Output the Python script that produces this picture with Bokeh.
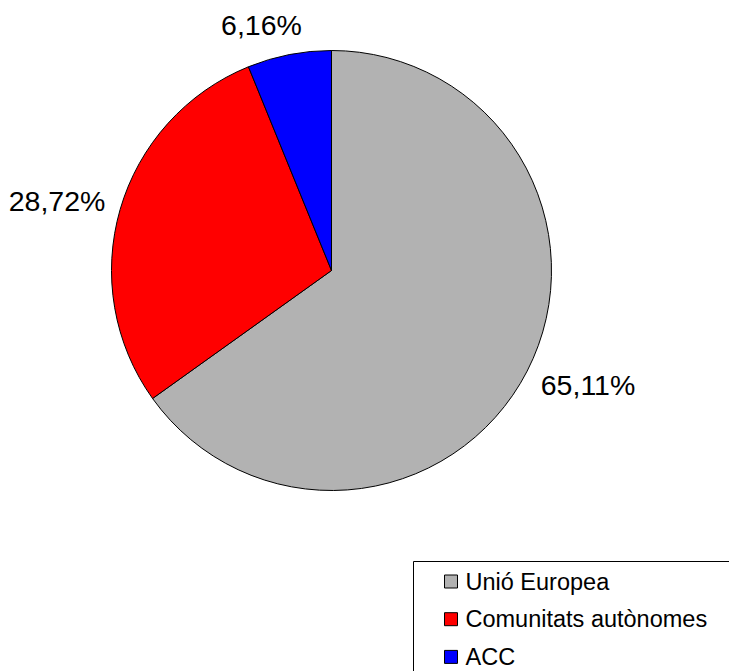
import math
from bokeh.plotting import figure
from bokeh.models import Range1d, ColumnDataSource
from bokeh.core.properties import value
from bokeh.embed import file_html
from bokeh.resources import INLINE

# ---- data ----
categories = ["Unió Europea", "Comunitats autònomes", "ACC"]
shares = [65.11, 28.72, 6.16]
share_labels = ["65,11%", "28,72%", "6,16%"]
colors = ["#b2b2b2", "#ff0000", "#0000ff"]

# ---- layout (pixel coordinates, y measured upward from the bottom) ----
W, H = 729, 671
FONT = "Liberation Sans"

p = figure(width=W, height=H, output_backend="svg", toolbar_location=None,
           x_range=Range1d(0, W), y_range=Range1d(0, H),
           min_border=0, outline_line_color=None)
p.axis.visible = False
p.grid.visible = False
p.background_fill_color = "white"
p.border_fill_color = "white"

cx, cy, R = 331, H - 270, 220

total = sum(shares)
starts, ends, mids = [], [], []
cum = 0.0
for s in shares:
    a0 = 90 - 360 * cum / total
    a1 = 90 - 360 * (cum + s) / total
    starts.append(math.radians(a1))
    ends.append(math.radians(a0))
    mids.append(math.radians((a0 + a1) / 2))
    cum += s

src = ColumnDataSource(dict(start=starts, end=ends, color=colors, cat=categories))
p.wedge(x=cx, y=cy, radius=R, start_angle="start", end_angle="end",
        fill_color="color", line_color="black", line_width=1, source=src)

# percentage labels outside the pie
char_w = {",": 0.278, "%": 0.889}
fs = 28.5
lx, ly = [], []
for lab, m in zip(share_labels, mids):
    w = sum(char_w.get(c, 0.556) for c in lab) * fs
    h = fs
    r = R + 16
    c, s = math.cos(m), math.sin(m)
    lx.append(cx + r * c + math.copysign(abs(c) ** 0.3, c) * w / 2)
    ly.append(cy + r * s + s * h / 2)
p.text(x=lx, y=ly, text=share_labels, text_align="center", text_baseline="middle",
       text_font=value(FONT), text_font_size=f"{fs}px", text_color="black")

# legend (drawn manually)
leg_left, leg_top = 413, H - 561
p.quad(left=leg_left, right=leg_left + 400, top=leg_top, bottom=leg_top - 200,
       fill_color=None, line_color="black", line_width=1)
row0 = H - 581
step = 37.7
rows = [row0 - i * step for i in range(len(categories))]
p.rect(x=[450.5] * len(categories), y=rows, width=13, height=13,
       fill_color=colors, line_color="black", line_width=1)
p.text(x=[465] * len(categories), y=rows, text=categories, text_align="left",
       text_baseline="middle", text_font=value(FONT), text_font_size="23.5px",
       text_color="black")

open("out.html", "w").write(file_html(p, INLINE))
